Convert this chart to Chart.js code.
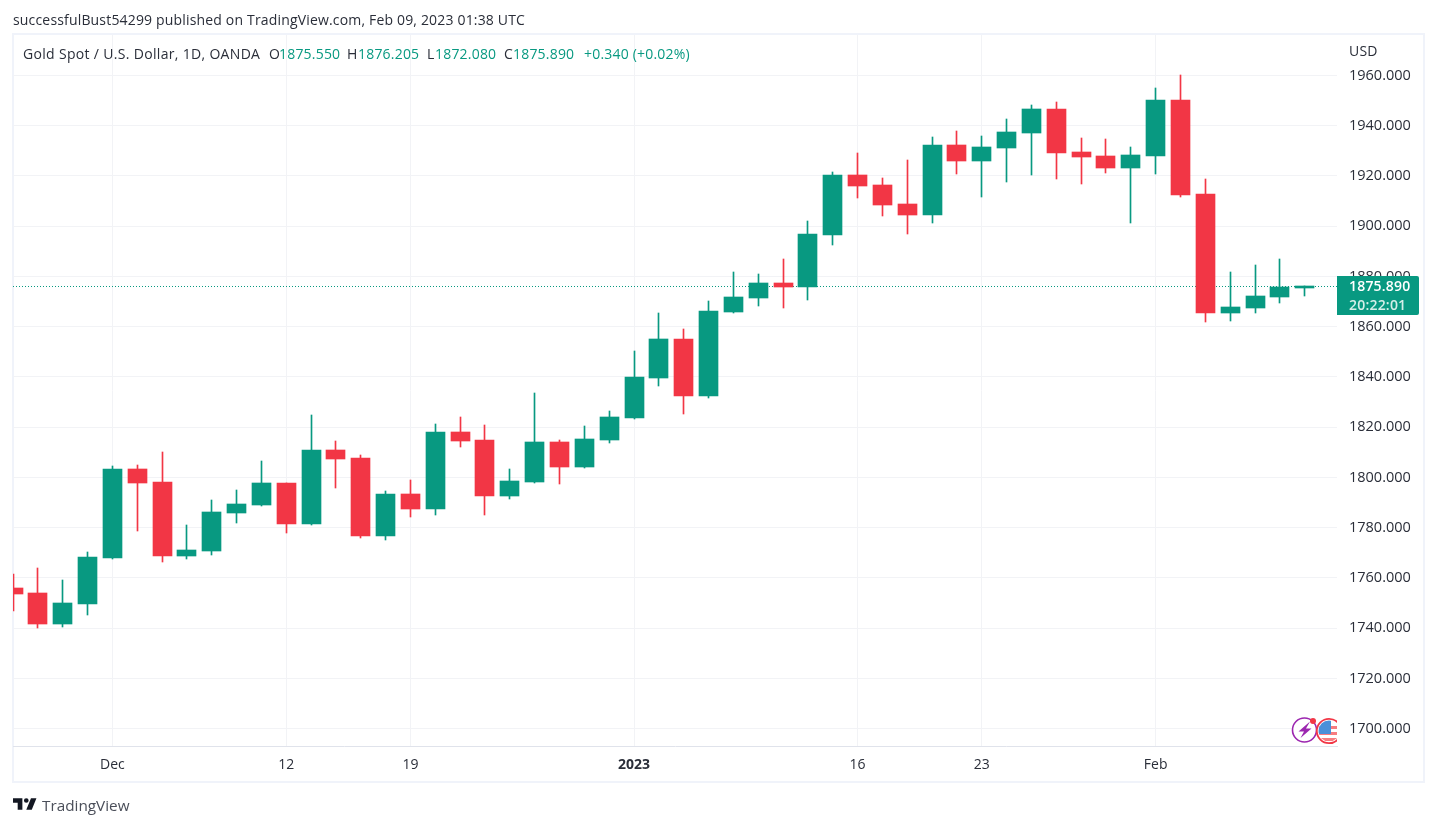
<!DOCTYPE html>
<html>
<head>
<meta charset="utf-8">
<title>Gold Spot / U.S. Dollar</title>
<script src="https://cdn.jsdelivr.net/npm/chart.js@4"></script>
<style>
    html, body { margin: 0; padding: 0; background: #fff; }
    #wrap { position: relative; width: 1437px; height: 826px; overflow: hidden; font-family: "Open Sans", sans-serif; color: #2a2e39; }
    #wrap div, #wrap span { position: absolute; white-space: nowrap; }
    #frame { left: 12px; top: 33px; width: 1409px; height: 746px; border: 2px solid #f0f3fa; }
    #myChart { position: absolute; left: 0; top: 0; }
    .txt { font-size: 14px; line-height: 18px; letter-spacing: 0.2px; }
    .up { color: #089981; }
</style>
</head>
<body>
<div id="wrap">
    <div id="frame"></div>
    <canvas id="myChart" width="1437" height="826"></canvas>

    <div class="txt" style="left:13px;top:11px;letter-spacing:0.17px">successfulBust54299 published on TradingView.com, Feb 09, 2023 01:38 UTC</div>
    <div class="txt" style="left:23px;top:45px;letter-spacing:0.32px">Gold Spot / U.S. Dollar, 1D, OANDA</div>
    <div class="txt" style="left:269px;top:45px">O</div><div class="txt up" style="left:279px;top:45px">1875.550</div>
    <div class="txt" style="left:347px;top:45px">H</div><div class="txt up" style="left:358px;top:45px">1876.205</div>
    <div class="txt" style="left:427px;top:45px">L</div><div class="txt up" style="left:435px;top:45px">1872.080</div>
    <div class="txt" style="left:504px;top:45px">C</div><div class="txt up" style="left:513px;top:45px">1875.890</div>
    <div class="txt up" style="left:584px;top:45px">+0.340 (+0.02%)</div>
    <div class="txt" style="left:1349px;top:42px">USD</div>

    <div style="left:1337px;top:276px;width:82px;height:39px;background:#089981;border-radius:0 2px 2px 0"></div>
    <div class="txt" style="left:1349px;top:277px;color:#fff;font-weight:600">1875.890</div>
    <div class="txt" style="left:1349px;top:296px;color:#d5efe9;font-weight:600">20:22:01</div>

    <!-- event icons on the time axis edge -->
    <svg style="position:absolute;left:1290px;top:714px" width="47" height="32" viewBox="0 0 47 32">
        <clipPath id="flagClip"><circle cx="39" cy="17" r="10.5"/></clipPath>
        <circle cx="14.5" cy="16" r="12" fill="#fff" stroke="#9c27b0" stroke-width="1.6"/>
        <path d="M20 7.5 L8.5 17.5 H14 L10.5 24 L21.5 14.5 H16 Z" fill="#9c27b0"/>
        <circle cx="23" cy="7" r="3" fill="#f23645"/>
        <circle cx="39" cy="17" r="12.2" fill="#fff" stroke="#f23645" stroke-width="1.8"/>
        <g clip-path="url(#flagClip)">
            <rect x="28" y="12" width="22" height="3" fill="#f77c80"/>
            <rect x="28" y="18" width="22" height="3" fill="#f77c80"/>
            <rect x="28" y="24" width="22" height="3" fill="#f77c80"/>
            <rect x="28" y="6" width="13" height="14" fill="#4a90d9"/>
        </g>
    </svg>

    <svg style="position:absolute;left:13px;top:797px" width="25" height="14" viewBox="2 6 32 15">
        <path fill="#131722" d="M14 6H2v6h6v9h6V6zm12 15h-7l6-15h7l-6 15zm-7-9a3 3 0 1 0 0-6 3 3 0 0 0 0 6z"/>
    </svg>
    <div style="left:42px;top:795px;font-size:15.3px;line-height:20px;color:#4a4e59">TradingView</div>
</div>

<script>
// daily candles
const opens = [1756.0, 1754.0, 1741.6, 1749.6, 1767.9, 1803.4, 1798.2, 1768.7, 1770.7, 1785.8, 1789.0, 1797.8, 1781.5, 1810.9, 1807.7, 1776.7, 1793.4, 1787.4, 1818.1, 1814.9, 1792.6, 1798.2, 1814.1, 1804.2, 1814.9, 1823.7, 1839.6, 1855.1, 1832.4, 1865.9, 1871.4, 1877.4, 1875.8, 1896.5, 1920.4, 1916.4, 1908.9, 1904.5, 1932.3, 1926.0, 1931.1, 1937.1, 1946.7, 1929.6, 1928.0, 1923.2, 1928.0, 1950.2, 1912.8, 1865.5, 1867.5, 1871.8, 1875.55];
const highs = [1761.5, 1763.9, 1759.2, 1770.3, 1804.5, 1804.9, 1810.1, 1781.1, 1791.0, 1795.0, 1806.5, 1797.8, 1824.9, 1814.5, 1808.9, 1794.6, 1799.0, 1821.3, 1824.0, 1820.9, 1803.4, 1833.6, 1814.9, 1820.5, 1826.4, 1850.3, 1865.5, 1859.1, 1870.2, 1881.8, 1881.0, 1887.0, 1902.1, 1921.6, 1929.2, 1919.2, 1926.4, 1935.5, 1937.9, 1935.9, 1942.7, 1948.3, 1949.5, 1935.1, 1934.7, 1931.5, 1955.0, 1960.2, 1918.8, 1881.8, 1884.6, 1887.0, 1876.205];
const lows = [1746.8, 1740.1, 1740.4, 1745.2, 1767.5, 1778.7, 1766.3, 1767.5, 1769.1, 1781.9, 1788.6, 1777.9, 1781.1, 1795.8, 1775.9, 1775.1, 1784.2, 1785.0, 1812.1, 1785.0, 1791.4, 1797.9, 1797.4, 1803.9, 1813.7, 1823.4, 1836.4, 1825.2, 1831.6, 1865.6, 1868.2, 1867.5, 1870.6, 1892.5, 1911.2, 1904.1, 1896.9, 1901.3, 1920.8, 1911.6, 1917.6, 1920.4, 1918.8, 1916.8, 1921.2, 1901.3, 1920.8, 1911.6, 1861.9, 1862.3, 1865.5, 1869.4, 1872.08];
const closes = [1753.6, 1741.6, 1750.0, 1768.3, 1803.4, 1797.8, 1768.7, 1771.1, 1786.2, 1789.4, 1797.8, 1781.5, 1810.9, 1807.3, 1776.7, 1793.4, 1787.4, 1818.1, 1814.5, 1792.6, 1798.6, 1814.1, 1804.2, 1815.3, 1824.0, 1840.0, 1855.1, 1832.4, 1866.2, 1871.8, 1877.4, 1875.8, 1896.9, 1920.4, 1916.0, 1908.5, 1904.5, 1932.3, 1926.0, 1931.5, 1937.5, 1946.7, 1929.2, 1927.6, 1923.2, 1928.4, 1950.2, 1912.4, 1865.5, 1867.8, 1872.2, 1875.8, 1875.89];

// which candle each time label sits under
const timeTicks = [4, 11, 16, 25, 34, 39, 46];
const timeLabels = ["Dec", "12", "19", "2023", "16", "23", "Feb"];
const priceTicks = [1700, 1720, 1740, 1760, 1780, 1800, 1820, 1840, 1860, 1880, 1900, 1920, 1940, 1960];
const lastPrice = 1875.89;

const GREEN = "#089981";
const RED = "#f23645";
const GRID = "#f2f3f6";
const colors = closes.map((c, i) => c >= opens[i] ? GREEN : RED);

// candles land on fractional pixels, snap them so wicks stay 1px sharp
const snapPlugin = {
    id: "snap",
    beforeDatasetsDraw(chart) {
        chart.data.datasets.forEach((ds, i) => {
            chart.getDatasetMeta(i).data.forEach(el => {
                if (ds.type === "line") {
                    el.y = Math.floor(el.y) + 0.5;
                } else {
                    el.x = Math.floor(el.x) + 0.5;
                    el.y = Math.round(el.y);
                    el.base = Math.round(el.base);
                }
            });
        });
    }
};

const ctx = document.getElementById("myChart").getContext("2d");
const myChart = new Chart(ctx, {
    type: "bar",
    data: {
        datasets: [{
            type: "line",
            data: [{ x: 0, y: lastPrice }, { x: 53.3, y: lastPrice }],
            borderColor: GREEN,
            borderWidth: 1,
            borderDash: [1, 2],
            pointRadius: 0,
            order: 3
        }, {
            data: highs.map((h, i) => ({ x: i, y: [lows[i], h] })),
            backgroundColor: colors,
            barThickness: 1,
            grouped: false,
            order: 2
        }, {
            data: opens.map((o, i) => ({ x: i, y: [o, closes[i]] })),
            backgroundColor: colors,
            barThickness: 19,
            minBarLength: 2,
            grouped: false,
            order: 1
        }]
    },
    options: {
        responsive: false,
        animation: false,
        devicePixelRatio: 1,
        layout: { padding: { left: 13, top: 35, right: 13, bottom: 45 } },
        plugins: { legend: { display: false }, tooltip: { enabled: false } },
        scales: {
            x: {
                type: "linear",
                offset: false,
                min: 0,
                max: 53.3,
                afterBuildTicks: s => { s.ticks = timeTicks.map(v => ({ value: v })); },
                afterFit: s => { s.height = 35; },
                grid: { color: GRID, drawTicks: false, offset: false },
                border: { color: "#e0e3eb" },
                ticks: {
                    autoSkip: false,
                    maxRotation: 0,
                    padding: 11,
                    color: "#2a2e39",
                    font: c => ({ family: "Open Sans", size: 14, weight: c.tick && c.tick.value === 25 ? "bold" : "normal" }),
                    callback: v => timeLabels[timeTicks.indexOf(v)]
                }
            },
            y: {
                position: "right",
                min: 1693.08,
                max: 1976.13,
                afterBuildTicks: s => { s.ticks = priceTicks.map(v => ({ value: v })); },
                afterFit: s => { s.width = 87; },
                grid: { color: GRID, drawTicks: false },
                border: { display: false },
                ticks: {
                    padding: 12,
                    color: "#2a2e39",
                    font: { family: "Open Sans", size: 14.5 },
                    callback: v => v.toFixed(3)
                }
            }
        }
    },
    plugins: [snapPlugin]
});
</script>
</body>
</html>
